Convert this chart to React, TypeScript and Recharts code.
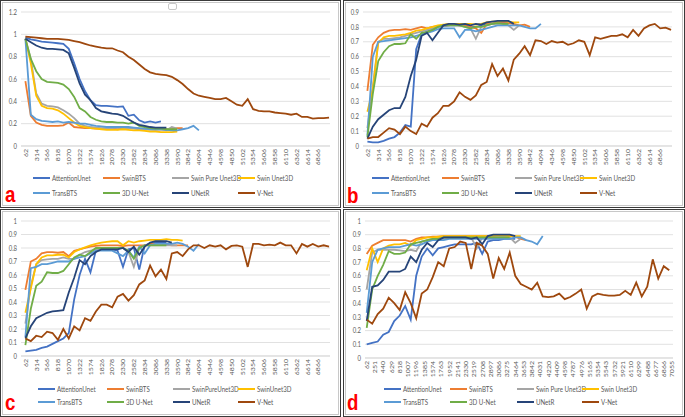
import React from "react";
import { LineChart, Line, XAxis, YAxis, CartesianGrid } from "recharts";

const FONT = "Lato, 'Open Sans', sans-serif";
const TEXT = "#595959";
const GRID = "#d9d9d9";

const colors = ["#4472C4", "#ED7D31", "#A5A5A5", "#FFC000", "#5B9BD5", "#70AD47", "#264478", "#9E480E"];
const namesA = ["AttentionUnet", "SwinBTS", "Swin Pure Unet3D", "Swin Unet3D", "TransBTS", "3D U-Net", "UNetR", "V-Net"];
const namesC = ["AttentionUnet", "SwinBTS", "SwinPureUnet3D", "SwinUnet3D", "TransBTS", "3D U-Net", "UNetR", "V-Net"];

// iterations sampled every 126 (every 2nd category of the excel sheet)
const iterations = Array.from({ length: 57 }, (_, i) => 62 + 126 * i);

const xTicksABC = [62, 314, 566, 818, 1070, 1322, 1574, 1826, 2078, 2330, 2582, 2834, 3086, 3338, 3590, 3842, 4094, 4346, 4598, 4850, 5102, 5354, 5606, 5858, 6110, 6362, 6614, 6866];
const xTicksD = [62, 251, 440, 629, 818, 1007, 1196, 1385, 1574, 1763, 1952, 2141, 2330, 2519, 2708, 2897, 3086, 3275, 3464, 3653, 3842, 4031, 4220, 4409, 4598, 4787, 4976, 5165, 5354, 5543, 5732, 5921, 6110, 6299, 6488, 6677, 6866, 7055];
const yTicksA = [0, 0.2, 0.4, 0.6, 0.8, 1, 1.2];
const yTicksB = [0, 0.1, 0.2, 0.3, 0.4, 0.5, 0.6, 0.7, 0.8, 0.9];
const yTicksCD = [0, 0.1, 0.2, 0.3, 0.4, 0.5, 0.6, 0.7, 0.8, 0.9, 1];

// panel a (loss)
const aAttention = [0.97, 0.955, 0.945, 0.935, 0.93, 0.925, 0.92, 0.915, 0.87, 0.74, 0.6, 0.49, 0.41, 0.365, 0.36, 0.36, 0.355, 0.35, 0.355, 0.27, 0.28, 0.23, 0.21, 0.22, 0.21, 0.22];
const aSwinBTS = [0.58, 0.27, 0.21, 0.19, 0.18, 0.18, 0.18, 0.185, 0.21, 0.17, 0.165, 0.16, 0.16, 0.155, 0.155, 0.155, 0.155, 0.15, 0.155, 0.16, 0.16, 0.155, 0.15, 0.15, 0.15, 0.15, 0.15, 0.15, 0.16, 0.16];
const aSwinPure = [0.96, 0.78, 0.47, 0.38, 0.36, 0.355, 0.345, 0.32, 0.29, 0.25, 0.2, 0.18, 0.17, 0.165, 0.16, 0.16, 0.16, 0.165, 0.16, 0.16, 0.155, 0.15, 0.15, 0.15, 0.145, 0.15, 0.14, 0.17, 0.155];
const aSwinUnet = [0.96, 0.74, 0.45, 0.36, 0.34, 0.335, 0.32, 0.29, 0.25, 0.21, 0.18, 0.17, 0.16, 0.155, 0.15, 0.145, 0.145, 0.145, 0.15, 0.145, 0.14, 0.14, 0.135, 0.13, 0.13, 0.125, 0.125, 0.125, 0.13];
const aTransBTS = [0.96, 0.28, 0.24, 0.225, 0.22, 0.215, 0.22, 0.21, 0.215, 0.21, 0.2, 0.2, 0.19, 0.18, 0.175, 0.17, 0.17, 0.17, 0.17, 0.17, 0.165, 0.16, 0.155, 0.15, 0.15, 0.15, 0.145, 0.14, 0.14, 0.15, 0.16, 0.18, 0.14];
const a3DUnet = [0.96, 0.78, 0.67, 0.6, 0.575, 0.57, 0.565, 0.55, 0.51, 0.44, 0.34, 0.31, 0.26, 0.235, 0.22, 0.215, 0.215, 0.21, 0.21, 0.2, 0.21, 0.18, 0.17, 0.16, 0.155, 0.155, 0.15, 0.15, 0.15];
const aUNetR = [0.96, 0.93, 0.9, 0.88, 0.87, 0.87, 0.865, 0.86, 0.83, 0.7, 0.56, 0.46, 0.41, 0.34, 0.31, 0.3, 0.29, 0.285, 0.27, 0.24, 0.21, 0.19, 0.18, 0.17, 0.165, 0.165, 0.165];
const aVNet = [0.98, 0.975, 0.97, 0.965, 0.96, 0.96, 0.96, 0.955, 0.95, 0.94, 0.93, 0.915, 0.9, 0.89, 0.88, 0.875, 0.875, 0.855, 0.84, 0.8, 0.77, 0.73, 0.69, 0.66, 0.645, 0.64, 0.635, 0.62, 0.59, 0.555, 0.51, 0.47, 0.45, 0.44, 0.43, 0.42, 0.42, 0.43, 0.4, 0.37, 0.36, 0.42, 0.33, 0.315, 0.31, 0.31, 0.3, 0.295, 0.29, 0.28, 0.29, 0.26, 0.26, 0.245, 0.25, 0.25, 0.255];

// panel b
const bAttention = [0.03, 0.025, 0.025, 0.035, 0.05, 0.06, 0.09, 0.14, 0.13, 0.65, 0.75, 0.77, 0.78, 0.8, 0.805, 0.81, 0.81, 0.81, 0.81, 0.8, 0.8, 0.81, 0.82, 0.82, 0.83, 0.83, 0.83];
const bSwinBTS = [0.37, 0.68, 0.73, 0.76, 0.775, 0.78, 0.78, 0.785, 0.78, 0.79, 0.8, 0.79, 0.8, 0.805, 0.81, 0.81, 0.815, 0.81, 0.81, 0.8, 0.79, 0.76, 0.82, 0.82, 0.825, 0.825, 0.825, 0.82, 0.81, 0.815, 0.8];
const bSwinPure = [0.12, 0.4, 0.7, 0.72, 0.72, 0.725, 0.73, 0.74, 0.75, 0.76, 0.77, 0.78, 0.79, 0.8, 0.81, 0.81, 0.815, 0.81, 0.8, 0.79, 0.72, 0.8, 0.81, 0.82, 0.82, 0.82, 0.81, 0.78, 0.81];
const bSwinUnet = [0.23, 0.38, 0.69, 0.73, 0.74, 0.74, 0.745, 0.75, 0.76, 0.775, 0.78, 0.79, 0.8, 0.81, 0.815, 0.82, 0.82, 0.82, 0.82, 0.82, 0.815, 0.82, 0.83, 0.835, 0.835, 0.84, 0.835, 0.83, 0.83];
const bTransBTS = [0.07, 0.6, 0.7, 0.705, 0.71, 0.715, 0.72, 0.725, 0.73, 0.74, 0.75, 0.76, 0.77, 0.785, 0.79, 0.79, 0.79, 0.73, 0.78, 0.78, 0.77, 0.78, 0.79, 0.8, 0.81, 0.81, 0.81, 0.81, 0.81, 0.8, 0.79, 0.79, 0.82];
const b3DUnet = [0.06, 0.35, 0.57, 0.63, 0.67, 0.685, 0.685, 0.69, 0.75, 0.72, 0.76, 0.765, 0.78, 0.8, 0.81, 0.81, 0.81, 0.81, 0.8, 0.79, 0.8, 0.8, 0.81, 0.82, 0.825, 0.82, 0.82];
const bUNetR = [0.05, 0.13, 0.18, 0.21, 0.24, 0.255, 0.255, 0.33, 0.47, 0.58, 0.74, 0.76, 0.71, 0.76, 0.81, 0.82, 0.82, 0.815, 0.82, 0.81, 0.82, 0.815, 0.83, 0.835, 0.84, 0.84, 0.84, 0.82];
const bVNet = [0.05, 0.06, 0.06, 0.09, 0.12, 0.11, 0.08, 0.13, 0.1, 0.08, 0.15, 0.13, 0.19, 0.22, 0.27, 0.27, 0.3, 0.36, 0.33, 0.31, 0.34, 0.41, 0.43, 0.55, 0.47, 0.52, 0.44, 0.58, 0.62, 0.67, 0.61, 0.71, 0.705, 0.685, 0.705, 0.695, 0.7, 0.68, 0.69, 0.71, 0.7, 0.61, 0.73, 0.72, 0.73, 0.74, 0.74, 0.75, 0.73, 0.78, 0.74, 0.79, 0.81, 0.82, 0.79, 0.795, 0.78];

// panel c
const cAttention = [0.035, 0.04, 0.045, 0.06, 0.07, 0.09, 0.11, 0.13, 0.17, 0.42, 0.6, 0.72, 0.62, 0.78, 0.79, 0.79, 0.79, 0.78, 0.66, 0.79, 0.8, 0.64, 0.82, 0.83, 0.84, 0.84, 0.84];
const cSwinBTS = [0.49, 0.7, 0.72, 0.76, 0.77, 0.77, 0.765, 0.77, 0.74, 0.78, 0.79, 0.8, 0.81, 0.815, 0.82, 0.82, 0.82, 0.82, 0.815, 0.82, 0.82, 0.82, 0.82, 0.83, 0.83, 0.83, 0.825, 0.82, 0.82, 0.82, 0.82];
const cSwinPure = [0.24, 0.52, 0.68, 0.71, 0.715, 0.72, 0.72, 0.73, 0.72, 0.72, 0.75, 0.77, 0.78, 0.79, 0.79, 0.79, 0.8, 0.8, 0.8, 0.77, 0.66, 0.8, 0.82, 0.82, 0.82, 0.82, 0.82, 0.82, 0.82];
const cSwinUnet = [0.32, 0.5, 0.68, 0.73, 0.745, 0.745, 0.75, 0.75, 0.73, 0.77, 0.79, 0.805, 0.82, 0.83, 0.84, 0.845, 0.85, 0.85, 0.82, 0.85, 0.84, 0.85, 0.855, 0.86, 0.86, 0.86, 0.865, 0.86, 0.86, 0.855];
const cTransBTS = [0.14, 0.65, 0.66, 0.68, 0.68, 0.69, 0.7, 0.7, 0.7, 0.72, 0.73, 0.74, 0.76, 0.78, 0.78, 0.78, 0.78, 0.76, 0.74, 0.78, 0.73, 0.81, 0.76, 0.82, 0.83, 0.83, 0.83, 0.83, 0.84, 0.83, 0.81, 0.78, 0.83];
const c3DUnet = [0.08, 0.35, 0.52, 0.55, 0.62, 0.615, 0.615, 0.63, 0.68, 0.73, 0.75, 0.74, 0.77, 0.8, 0.8, 0.8, 0.8, 0.8, 0.8, 0.78, 0.72, 0.8, 0.82, 0.82, 0.82, 0.82, 0.82];
const cUNetR = [0.13, 0.22, 0.28, 0.3, 0.32, 0.33, 0.335, 0.34, 0.47, 0.58, 0.71, 0.68, 0.74, 0.77, 0.79, 0.79, 0.79, 0.79, 0.8, 0.77, 0.81, 0.75, 0.81, 0.84, 0.85, 0.85, 0.85, 0.84];
const cVNet = [0.13, 0.11, 0.15, 0.14, 0.18, 0.17, 0.12, 0.2, 0.13, 0.22, 0.19, 0.28, 0.26, 0.33, 0.38, 0.38, 0.36, 0.44, 0.46, 0.41, 0.45, 0.53, 0.56, 0.67, 0.59, 0.64, 0.57, 0.76, 0.77, 0.74, 0.79, 0.82, 0.82, 0.8, 0.82, 0.81, 0.82, 0.79, 0.815, 0.82, 0.81, 0.66, 0.83, 0.83, 0.82, 0.825, 0.82, 0.84, 0.82, 0.82, 0.76, 0.83, 0.81, 0.83, 0.81, 0.82, 0.81];

// panel d
const dAttention = [0.1, 0.11, 0.12, 0.17, 0.19, 0.27, 0.31, 0.38, 0.28, 0.6, 0.74, 0.8, 0.75, 0.8, 0.81, 0.82, 0.83, 0.83, 0.83, 0.83, 0.84, 0.76, 0.85, 0.86, 0.86, 0.87, 0.87, 0.87];
const dSwinBTS = [0.76, 0.82, 0.84, 0.86, 0.86, 0.86, 0.86, 0.86, 0.85, 0.87, 0.88, 0.88, 0.885, 0.885, 0.89, 0.89, 0.89, 0.89, 0.89, 0.89, 0.89, 0.89, 0.89, 0.89, 0.89, 0.89, 0.89, 0.885, 0.87, 0.86];
const dSwinPure = [0.5, 0.77, 0.79, 0.79, 0.79, 0.79, 0.785, 0.78, 0.79, 0.78, 0.85, 0.86, 0.87, 0.87, 0.87, 0.875, 0.88, 0.88, 0.88, 0.88, 0.8, 0.88, 0.88, 0.88, 0.885, 0.885, 0.88, 0.84, 0.87];
const dSwinUnet = [0.64, 0.8, 0.7, 0.8, 0.82, 0.83, 0.83, 0.84, 0.82, 0.86, 0.87, 0.88, 0.88, 0.885, 0.89, 0.89, 0.89, 0.89, 0.89, 0.89, 0.89, 0.89, 0.89, 0.895, 0.895, 0.895, 0.89, 0.89, 0.89];
const dTransBTS = [0.33, 0.7, 0.79, 0.8, 0.81, 0.81, 0.81, 0.82, 0.83, 0.82, 0.83, 0.85, 0.86, 0.86, 0.86, 0.87, 0.87, 0.87, 0.87, 0.87, 0.87, 0.87, 0.87, 0.87, 0.87, 0.87, 0.87, 0.88, 0.88, 0.86, 0.85, 0.83, 0.89];
const d3DUnet = [0.22, 0.5, 0.6, 0.68, 0.78, 0.76, 0.76, 0.77, 0.83, 0.84, 0.85, 0.86, 0.87, 0.87, 0.88, 0.88, 0.88, 0.88, 0.88, 0.88, 0.88, 0.88, 0.88, 0.88, 0.88, 0.88, 0.88];
const dUNetR = [0.27, 0.52, 0.53, 0.57, 0.63, 0.63, 0.63, 0.65, 0.74, 0.7, 0.79, 0.84, 0.81, 0.86, 0.88, 0.88, 0.88, 0.88, 0.88, 0.87, 0.88, 0.83, 0.89, 0.9, 0.9, 0.9, 0.9, 0.89];
const dVNet = [0.28, 0.25, 0.32, 0.36, 0.44, 0.4, 0.35, 0.48, 0.4, 0.29, 0.47, 0.5, 0.59, 0.7, 0.67, 0.8, 0.81, 0.85, 0.84, 0.65, 0.84, 0.82, 0.76, 0.58, 0.73, 0.65, 0.77, 0.6, 0.54, 0.52, 0.5, 0.55, 0.45, 0.445, 0.45, 0.47, 0.43, 0.445, 0.47, 0.5, 0.36, 0.45, 0.47, 0.46, 0.455, 0.455, 0.46, 0.49, 0.46, 0.55, 0.45, 0.52, 0.72, 0.58, 0.67, 0.64];

const panels = [
  {
    key: "a",
    series: [aAttention, aSwinBTS, aSwinPure, aSwinUnet, aTransBTS, a3DUnet, aUNetR, aVNet],
    names: namesA,
    yDomain: [0, 1.2],
    yTicks: yTicksA,
    xTicks: xTicksABC,
    xDomain: [-40, 7140],
    box: { left: 0, top: 0, width: 341, height: 208 },
    chart: { left: 0, top: 0, width: 340, height: 176, yWidth: 21, margin: { top: 12, right: 10, left: 0, bottom: 0 } },
    legend: { cols: [33, 103, 172, 238], rows: [178, 193] },
    letter: { x: 5, y: 202 },
  },
  {
    key: "b",
    series: [bAttention, bSwinBTS, bSwinPure, bSwinUnet, bTransBTS, b3DUnet, bUNetR, bVNet],
    names: namesA,
    yDomain: [0, 0.9],
    yTicks: yTicksB,
    xTicks: xTicksABC,
    xDomain: [-40, 7140],
    box: { left: 343, top: 0, width: 342, height: 208 },
    chart: { left: 342, top: 0, width: 340, height: 176, yWidth: 21, margin: { top: 12, right: 10, left: 0, bottom: 0 } },
    legend: { cols: [372, 442, 515, 580], rows: [178, 193] },
    letter: { x: 347, y: 203 },
  },
  {
    key: "c",
    series: [cAttention, cSwinBTS, cSwinPure, cSwinUnet, cTransBTS, c3DUnet, cUNetR, cVNet],
    names: namesC,
    yDomain: [0, 1],
    yTicks: yTicksCD,
    xTicks: xTicksABC,
    xDomain: [-40, 7140],
    box: { left: 0, top: 209, width: 341, height: 208 },
    chart: { left: 0, top: 209, width: 340, height: 177, yWidth: 21, margin: { top: 12, right: 10, left: 0, bottom: 0 } },
    legend: { cols: [38, 107, 173, 238], rows: [389, 402] },
    letter: { x: 5, y: 410 },
  },
  {
    key: "d",
    series: [dAttention, dSwinBTS, dSwinPure, dSwinUnet, dTransBTS, d3DUnet, dUNetR, dVNet],
    names: namesA,
    yDomain: [0, 1],
    yTicks: yTicksCD,
    xTicks: xTicksD,
    xDomain: [23, 7078],
    box: { left: 343, top: 209, width: 342, height: 208 },
    chart: { left: 342, top: 209, width: 340, height: 179, yWidth: 23, margin: { top: 12, right: 9, left: 0, bottom: 0 } },
    legend: { cols: [384, 450, 517, 582], rows: [389, 402] },
    letter: { x: 347, y: 410 },
  },
];

function buildRows(series: number[][]) {
  return iterations.map((it, i) => {
    const row: Record<string, number> = { it };
    series.forEach((s, k) => {
      if (i < s.length) row["s" + k] = s[i];
    });
    return row;
  });
}

const fmtY = (v: number) => String(Math.round(v * 10) / 10);

const YTick = (props: any) => {
  const { x, y, payload } = props;
  return (
    <text transform={`translate(${x},${y}) scale(0.85,1)`} textAnchor="end" dominantBaseline="central" fontSize={7} fill={TEXT} fontFamily={FONT}>
      {fmtY(payload.value)}
    </text>
  );
};

const XTick = (props: any) => {
  const { x, y, payload } = props;
  return (
    <text transform={`translate(${x},${y}) rotate(-90) scale(1,0.85)`} textAnchor="end" dominantBaseline="central" fontSize={7} fill={TEXT} fontFamily={FONT}>
      {payload.value}
    </text>
  );
};

function Panel({ p }: { p: any }) {
  const rows = buildRows(p.series);
  const c = p.chart;
  return (
    <div style={{ position: "absolute", left: c.left, top: c.top }}>
      <LineChart width={c.width} height={c.height} data={rows} margin={c.margin}>
        <CartesianGrid vertical={false} stroke={GRID} strokeWidth={0.8} />
        <XAxis
          dataKey="it"
          type="number"
          domain={p.xDomain}
          ticks={p.xTicks}
          interval={0}
          allowDataOverflow
          height={30}
          tickSize={0}
          tickMargin={3}
          tickLine={false}
          axisLine={{ stroke: GRID }}
          tick={<XTick />}
        />
        <YAxis
          domain={p.yDomain}
          ticks={p.yTicks}
          interval={0}
          width={c.yWidth}
          tickSize={0}
          tickMargin={4}
          tickLine={false}
          axisLine={false}
          tick={<YTick />}
        />
        {p.names.map((n: string, k: number) => (
          <Line
            key={n}
            dataKey={"s" + k}
            name={n}
            type="linear"
            stroke={colors[k]}
            strokeWidth={1.8}
            dot={false}
            isAnimationActive={false}
          />
        ))}
      </LineChart>
    </div>
  );
}

function Overlay() {
  return (
    <svg width={685} height={417} style={{ position: "absolute", left: 0, top: 0, pointerEvents: "none" }}>
      {panels.map((p) => (
        <g key={p.key}>
          {p.names.map((n, k) => {
            const x = p.legend.cols[k % 4];
            const y = p.legend.rows[Math.floor(k / 4)];
            return (
              <g key={n}>
                <line x1={x} x2={x + 17} y1={y} y2={y} stroke={colors[k]} strokeWidth={2} />
                <text
                  transform={`translate(${x + 19},${y}) scale(0.88,1)`}
                  dominantBaseline="central"
                  fontSize={7}
                  fill={TEXT}
                  fontFamily={FONT}
                >
                  {n}
                </text>
              </g>
            );
          })}
          <text
            transform={`translate(${p.letter.x},${p.letter.y}) scale(0.85,1)`}
            fontSize={22}
            fontWeight="bold"
            fill="#FF0000"
            fontFamily="'Liberation Sans', Arial, sans-serif"
          >
            {p.key}
          </text>
        </g>
      ))}
    </svg>
  );
}

export default function App() {
  return (
    <div style={{ position: "absolute", left: 0, top: 0, width: 685, height: 417, background: "#fff", overflow: "hidden" }}>
      {panels.map((p) => (
        <div
          key={"box" + p.key}
          style={{
            position: "absolute",
            left: p.box.left,
            top: p.box.top,
            width: p.box.width,
            height: p.box.height,
            boxSizing: "border-box",
            border: "1px solid #3a3a3a",
            boxShadow: "inset 0 0 0 1px #fff, inset 0 0 0 2px #c8c8c8",
          }}
        />
      ))}
      <div style={{ position: "absolute", left: 168, top: 3, width: 7, height: 5, border: "1px solid #c8c8c8", borderRadius: 2 }} />
      {panels.map((p) => (
        <Panel key={p.key} p={p} />
      ))}
      <Overlay />
    </div>
  );
}
